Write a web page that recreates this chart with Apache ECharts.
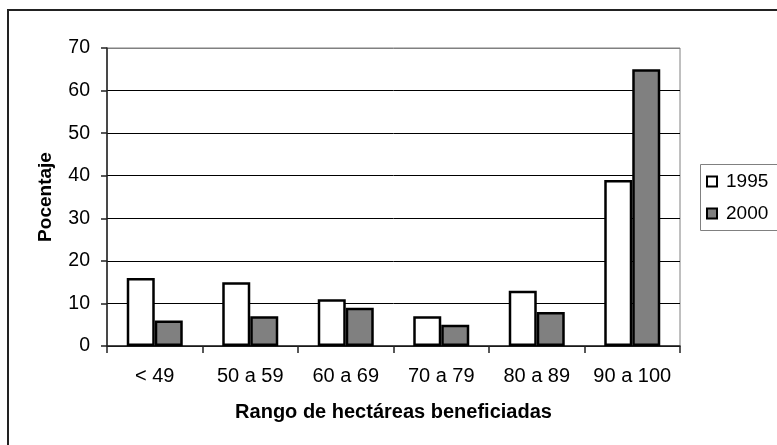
<!DOCTYPE html>
<html>
<head>
<meta charset="utf-8">
<script src="https://cdn.jsdelivr.net/npm/echarts@6/dist/echarts.min.js"></script>
<style>
html,body{margin:0;padding:0;background:#fff;}
#chart{width:777px;height:445px;}
</style>
</head>
<body>
<div id="chart"></div>
<script>
var categories = ['< 49', '50 a 59', '60 a 69', '70 a 79', '80 a 89', '90 a 100'];
var series1995 = [16, 15, 11, 7, 13, 39];
var series2000 = [6, 7, 9, 5, 8, 65];
var yTicks = [0, 10, 20, 30, 40, 50, 60, 70];
var seriesNames = ['1995', '2000'];
var xTitle = 'Rango de hectáreas beneficiadas';
var yTitle = 'Pocentaje';

var FONT = 'Liberation Sans, Arial, sans-serif';
var chart = echarts.init(document.getElementById('chart'), null, {renderer: 'canvas'});
chart.setOption({
  animation: false,
  backgroundColor: '#fff',
  textStyle: {fontFamily: FONT},
  grid: {left: 107, right: 97, top: 48, bottom: 99, show: true, borderColor: '#808080', borderWidth: 1, backgroundColor: 'transparent'},
  legend: {
    orient: 'vertical', left: 706, top: 172, padding: 0, itemGap: 13,
    itemWidth: 10, itemHeight: 10, icon: 'rect',
    textStyle: {fontSize: 19, color: '#000', fontFamily: FONT, padding: [0, 0, 0, 4]},
    data: seriesNames
  },
  graphic: [
    {type: 'rect', shape: {x: 8, y: 10, width: 790, height: 460}, style: {fill: 'none', stroke: '#222', lineWidth: 2}, z: 100},
    {type: 'rect', shape: {x: 700.5, y: 164.5, width: 100, height: 66}, style: {fill: 'none', stroke: '#808080', lineWidth: 1}, z: 100}
  ],
  xAxis: {
    type: 'category', data: categories,
    name: xTitle, nameLocation: 'middle', nameGap: 56,
    nameTextStyle: {fontSize: 20, fontWeight: 'bold', color: '#000', fontFamily: FONT},
    axisLine: {lineStyle: {color: '#222', width: 1.5}},
    axisTick: {show: true, length: 7, lineStyle: {color: '#222', width: 1.5}},
    axisLabel: {fontSize: 20, color: '#000', margin: 20, interval: 0, fontFamily: FONT}
  },
  yAxis: {
    type: 'value', min: yTicks[0], max: yTicks[yTicks.length - 1], interval: 10,
    name: yTitle, nameLocation: 'middle', nameGap: 52, nameRotate: 90,
    nameTextStyle: {fontSize: 19, fontWeight: 'bold', color: '#000', fontFamily: FONT},
    axisLine: {show: true, lineStyle: {color: '#222', width: 1.5}},
    axisTick: {show: true, length: 6, lineStyle: {color: '#222', width: 1.5}},
    axisLabel: {fontSize: 19.5, color: '#000', margin: 17, fontFamily: FONT},
    splitLine: {show: true, lineStyle: {color: ['#000', '#000', '#000', '#000', '#000', '#000', '#000', '#808080'], width: 1}}
  },
  series: [
    {name: seriesNames[0], type: 'bar', data: series1995, barWidth: 28, barGap: '0%',
     itemStyle: {color: '#ffffff', borderColor: '#000', borderWidth: 2.5}},
    {name: seriesNames[1], type: 'bar', data: series2000, barWidth: 28, barGap: '0%',
     itemStyle: {color: '#808080', borderColor: '#000', borderWidth: 2.5}}
  ]
});
</script>
</body>
</html>
